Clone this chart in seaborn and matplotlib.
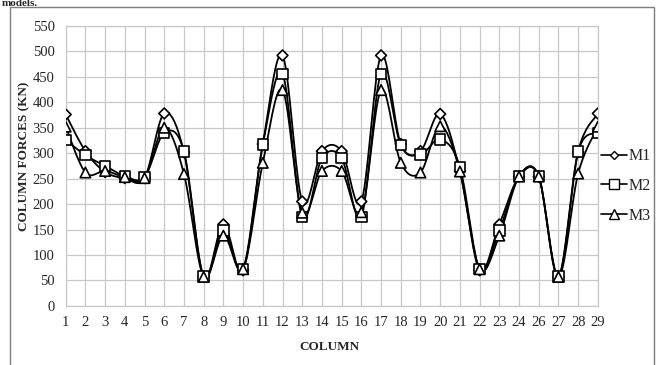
import numpy as np
import pandas as pd
import seaborn as sns
import matplotlib
matplotlib.use("Agg")
import matplotlib.pyplot as plt
from matplotlib.lines import Line2D
from matplotlib.patches import Rectangle

# column labels (25 is not in the chart)
columns = ["1", "2", "3", "4", "5", "6", "7", "8", "9", "10", "11", "12", "13", "14",
           "15", "16", "17", "18", "19", "20", "21", "22", "23", "24", "26", "27", "28", "29"]
m1 = [376, 304, 263, 251, 251, 378, 302, 57, 160, 70, 318, 492, 205, 304,
      304, 205, 492, 318, 304, 377, 265, 70, 160, 254, 254, 57, 303, 378]
m2 = [326, 296, 275, 255, 253, 340, 303, 58, 148, 73, 317, 456, 175, 290,
      290, 175, 456, 316, 297, 327, 273, 73, 148, 255, 255, 58, 303, 340]
m3 = [352, 262, 265, 253, 251, 350, 259, 57, 138, 72, 281, 424, 183, 265,
      265, 184, 424, 281, 262, 353, 264, 72, 138, 254, 254, 57, 260, 352]
models = ["M1", "M2", "M3"]
marker_map = {"M1": "D", "M2": "s", "M3": "^"}
size_map = {"M1": 5.5, "M2": 7.5, "M3": 7.5}

pos = np.arange(len(columns))
df = pd.DataFrame({
    "pos": np.tile(pos, 3),
    "force": m1 + m2 + m3,
    "model": np.repeat(models, len(columns)),
})


def smooth(x, y, n=20):
    # excel style smoothed line: bezier through the points
    x = np.asarray(x, float)
    y = np.asarray(y, float)
    px = np.concatenate([[x[0]], x, [x[-1]]])
    py = np.concatenate([[y[0]], y, [y[-1]]])
    xs, ys = [], []
    t = np.linspace(0, 1, n)[:, None]
    for i in range(1, len(px) - 2):
        p0 = np.array([px[i], py[i]])
        p3 = np.array([px[i + 1], py[i + 1]])
        p1 = p0 + (np.array([px[i + 1], py[i + 1]]) - np.array([px[i - 1], py[i - 1]])) / 6
        p2 = p3 - (np.array([px[i + 2], py[i + 2]]) - np.array([px[i], py[i]])) / 6
        b = ((1 - t) ** 3) * p0 + 3 * ((1 - t) ** 2) * t * p1 + 3 * (1 - t) * t ** 2 * p2 + t ** 3 * p3
        xs.append(b[:, 0])
        ys.append(b[:, 1])
    return np.concatenate(xs), np.concatenate(ys)


sns.set_style("white")
plt.rcParams["font.family"] = ["Liberation Serif", "DejaVu Serif"]

fig = plt.figure(figsize=(6.57, 3.65), dpi=100)
ax = fig.add_axes([0.100, 0.162, 0.810, 0.767])

for name, vals in zip(models, [m1, m2, m3]):
    sx, sy = smooth(pos, vals)
    ax.plot(sx, sy, color="black", lw=1.3, zorder=2)

sns.scatterplot(data=df, x="pos", y="force", style="model", markers=marker_map,
                size="model", sizes={k: v ** 2 for k, v in size_map.items()},
                color="white", edgecolor="black", linewidth=1.2, legend=False,
                ax=ax, zorder=3)

ax.set_xlim(0, len(columns) - 1)
ax.set_ylim(0, 550)
ax.set_xticks(pos)
ax.set_xticklabels(columns)
ax.set_yticks(np.arange(0, 551, 50))
ax.grid(True, color="#c8c8c8", lw=0.9)
ax.set_axisbelow(True)
for s in ax.spines.values():
    s.set_color("#c8c8c8")
    s.set_linewidth(0.9)
ax.tick_params(axis="x", length=4, direction="inout", color="#b0b0b0",
               labelsize=10.5, pad=5)
ax.tick_params(axis="y", length=0, labelsize=10.5, pad=8)
ax.set_xlabel("")
ax.set_ylabel("")

fig.text(0.502, 1 - 347 / 365, "COLUMN", ha="center", va="center",
         fontsize=9.5, fontweight="bold")
fig.text(24 / 657, 1 - 156 / 365, "COLUMN FORCES (KN)", ha="center", va="center",
         rotation=90, fontsize=9.5, fontweight="bold")

handles = [Line2D([0], [0], color="black", lw=1.2, marker=marker_map[m],
                  markersize=size_map[m] - 1, markerfacecolor="white",
                  markeredgecolor="black") for m in models]
fig.legend(handles, models, loc="center left", bbox_to_anchor=(0.905, 1 - 186 / 365),
           frameon=False, fontsize=11.5, handlelength=1.6, handletextpad=0.1,
           labelspacing=0.85, borderaxespad=0)

# chart frame and the text above it from the source page
fig.patches.append(Rectangle((10 / 657, -0.2), 644 / 657, 1.2 - 7 / 365,
                             transform=fig.transFigure, fill=False,
                             edgecolor="#7f7f7f", lw=1.0))
fig.text(0.003, 1 - 6 / 365, "models.", fontsize=8, fontweight="bold",
         va="baseline", ha="left")

fig.savefig("out.png", dpi=100)
